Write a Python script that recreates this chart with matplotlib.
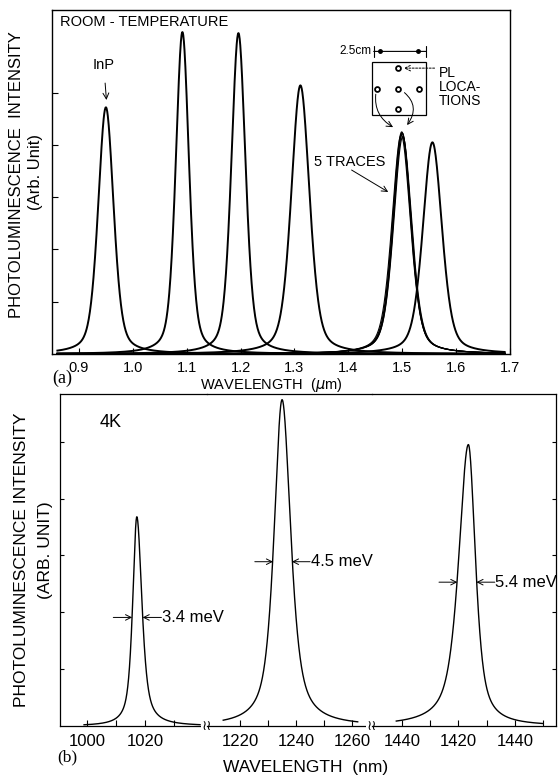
import numpy as np
import matplotlib.pyplot as plt

plt.rcParams['font.family'] = ['Liberation Sans', 'DejaVu Sans']

# (a) room temperature PL, wavelength in um
rt_centres = [0.950, 1.092, 1.196, 1.311, 1.556]
rt_heights = [4.72, 6.16, 6.14, 5.14, 4.05]
rt_fwhm = [0.034, 0.029, 0.031, 0.040, 0.042]
# the 5 traces taken at the 5 PL locations (1.5 um wafer)
trace_centres = [1.499, 1.500, 1.498, 1.501, 1.500]
trace_heights = [4.25, 4.22, 4.19, 4.16, 4.23]
trace_fwhm = [0.040, 0.040, 0.041, 0.040, 0.039]
rt_xticks = [0.9, 1.0, 1.1, 1.2, 1.3, 1.4, 1.5, 1.6, 1.7]

# (b) 4K PL, wavelength in nm (broken axis, 3 segments)
lt_centres = [1017.2, 1235.0, 1423.5]
lt_heights = [3.68, 5.74, 4.95]
lt_hw_left = [1.7, 3.4, 4.1]
lt_hw_right = [2.1, 3.7, 3.0]
lt_labels = ['3.4 meV', '4.5 meV', '5.4 meV']
lt_span = [(999, 1039), (1214, 1262), (1398, 1450)]
seg_lims = [(990.7, 1041.4), (1208.2, 1267.1), (1389.4, 1454.5)]
seg_ticks = [[1000, 1010, 1020, 1030, 1040],
             [1220, 1230, 1240, 1250, 1260],
             [1400, 1410, 1420, 1430, 1440, 1450]]
seg_ticklabels = [['1000', '', '1020', '', ''],
                  ['1220', '', '1240', '', '1260'],
                  ['1440', '', '1420', '', '1440', '']]


def line_shape(x, c, h, hw_l, hw_r, eta=0.4):
    hw = np.where(x < c, hw_l, hw_r)
    u = (x - c) / hw
    return h * (eta / (1 + u**2) + (1 - eta) * np.exp(-np.log(2) * u**2))


fig = plt.figure(figsize=(5.58, 7.78), dpi=100)

# ---------------- (a) ----------------
ax = fig.add_axes([0.0932, 0.545, 0.8208, 0.442])
xa = np.linspace(0.86, 1.69, 1500)
for c, h, w in zip(rt_centres, rt_heights, rt_fwhm):
    ax.plot(xa, line_shape(xa, c, h, w / 2, w / 2), color='black', lw=1.4)
for c, h, w in zip(trace_centres, trace_heights, trace_fwhm):
    ax.plot(xa, line_shape(xa, c, h, w / 2, w / 2), color='black', lw=0.8)

ax.set_xlim(0.85, 1.70)
ax.set_ylim(0, 6.58)
ax.set_xticks(rt_xticks)
ax.set_xticklabels([f'{t:.1f}' for t in rt_xticks])
ax.set_yticks([1, 2, 3, 4, 5])
ax.set_yticklabels([])
ax.tick_params(direction='in', length=4, labelsize=10.5, pad=5)
for s in ax.spines.values():
    s.set_linewidth(1.0)

ax.text(0.017, 0.965, 'ROOM - TEMPERATURE', transform=ax.transAxes,
        fontsize=10.5, va='center', ha='left')
ax.annotate('InP', xy=(0.951, 4.86), xytext=(0.946, 5.53), fontsize=10.5,
            ha='center', va='center',
            arrowprops=dict(arrowstyle='->', color='black', lw=0.7,
                            shrinkA=6, shrinkB=0))

# inset: wafer with PL locations
ax.add_patch(plt.Rectangle((1.443, 4.57), 0.101, 1.01, fill=False,
                           lw=0.9, color='black'))
dot_x = [1.493, 1.454, 1.493, 1.531, 1.493]
dot_y = [5.47, 5.07, 5.07, 5.07, 4.68]
ax.plot(dot_x, dot_y, 'o', color='black', ms=3.5, mfc='white', mew=1.3)
ax.annotate('', xy=(1.447, 5.79), xytext=(1.544, 5.79),
            arrowprops=dict(arrowstyle='|-|', color='black', lw=0.8,
                            mutation_scale=4, shrinkA=0, shrinkB=0))
ax.plot([1.458, 1.529], [5.79, 5.79], 'o', color='black', ms=2.5)
ax.text(1.443, 5.79, '2.5cm', fontsize=8.5, ha='right', va='center')
ax.annotate('', xy=(1.503, 5.47), xytext=(1.560, 5.47),
            arrowprops=dict(arrowstyle='->', color='black', lw=0.7,
                            linestyle=(0, (2, 1.5)), shrinkA=0, shrinkB=0))
ax.text(1.568, 5.52, 'PL\nLOCA-\nTIONS', fontsize=10, ha='left', va='top',
        linespacing=1.0)
ax.annotate('', xy=(1.483, 4.34), xytext=(1.452, 5.05),
            arrowprops=dict(arrowstyle='->', color='black', lw=0.7,
                            connectionstyle='arc3,rad=0.35',
                            shrinkA=3, shrinkB=0))
ax.annotate('', xy=(1.509, 4.38), xytext=(1.498, 5.05),
            arrowprops=dict(arrowstyle='->', color='black', lw=0.7,
                            connectionstyle='arc3,rad=-0.5',
                            shrinkA=3, shrinkB=0))
ax.text(1.403, 3.67, '5 TRACES', fontsize=10.5, ha='center', va='center')
ax.annotate('', xy=(1.474, 3.10), xytext=(1.406, 3.52),
            arrowprops=dict(arrowstyle='->', color='black', lw=0.7,
                            shrinkA=0, shrinkB=0))

fig.text(0.030, 0.775, 'PHOTOLUMINESCENCE  INTENSITY', rotation=90,
         fontsize=12, ha='center', va='center')
fig.text(0.063, 0.779, '(Arb. Unit)', rotation=90, fontsize=12,
         ha='center', va='center')
fig.text(0.487, 0.5055, r'WAVELENGTH  ($\mu$m)', fontsize=10.5,
         ha='center', va='center')
fig.text(0.093, 0.514, '(a)', fontsize=13, family='Liberation Serif',
         ha='left', va='center')

# ---------------- (b) ----------------
left, bottom, height = 0.1075, 0.0668, 0.4268
seg_px = [147, 165, 184]
total_w = 0.8889
axes_b = []
x0 = left
for i, (lim, ticks, labels) in enumerate(zip(seg_lims, seg_ticks, seg_ticklabels)):
    w = total_w * seg_px[i] / sum(seg_px)
    a = fig.add_axes([x0, bottom, w, height])
    a.patch.set_visible(False)
    x0 += w
    a.set_xlim(*lim)
    a.set_ylim(0, 5.84)
    a.set_xticks(ticks)
    a.set_xticklabels(labels)
    a.set_yticks([1, 2, 3, 4, 5])
    a.set_yticklabels([])
    a.tick_params(direction='in', length=4, labelsize=12, pad=6)
    a.tick_params(axis='y', length=3)
    if i > 0:
        a.spines['left'].set_visible(False)
        a.tick_params(axis='y', left=False)
    if i < 2:
        a.spines['right'].set_visible(False)
    else:
        a.tick_params(axis='y', right=True)
    for s in a.spines.values():
        s.set_linewidth(0.9)
    axes_b.append(a)

for a, c, h, hl, hr, span in zip(axes_b, lt_centres, lt_heights,
                                 lt_hw_left, lt_hw_right, lt_span):
    x = np.linspace(span[0], span[1], 800)
    a.plot(x, line_shape(x, c, h, hl, hr, eta=0.7), color='black', lw=1.0)

# FWHM markers
fwhm_y = [1.91, 2.89, 2.53]
for a, c, h, hl, hr, lab, yy in zip(axes_b, lt_centres, lt_heights,
                                     lt_hw_left, lt_hw_right, lt_labels, fwhm_y):
    xl, xr = c - hl * 0.95, c + hr * 0.95
    a.annotate('', xy=(xl, yy), xytext=(xl - 6.5, yy),
               arrowprops=dict(arrowstyle='->', color='black', lw=0.7,
                               shrinkA=0, shrinkB=0))
    a.annotate('', xy=(xr, yy), xytext=(xr + 6.5, yy),
               arrowprops=dict(arrowstyle='->', color='black', lw=0.7,
                               shrinkA=0, shrinkB=0))
    a.text(xr + 6.7, yy, lab, fontsize=12, ha='left', va='center',
           clip_on=False)

axes_b[0].text(1004.5, 5.33, '4K', fontsize=13, ha='left', va='center')

# axis break marks
for a in axes_b[:2]:
    a.text(1.0, 0.0, '\u2240\u2240', transform=a.transAxes, fontsize=10,
           family='DejaVu Sans', ha='center', va='center', zorder=5,
           bbox=dict(boxstyle='square,pad=0.05', fc='white', ec='none'))

fig.text(0.039, 0.280, 'PHOTOLUMINESCENCE INTENSITY', rotation=90,
         fontsize=12.5, ha='center', va='center')
fig.text(0.081, 0.293, '(ARB. UNIT)', rotation=90, fontsize=12.5,
         ha='center', va='center')
fig.text(0.547, 0.013, 'WAVELENGTH  (nm)', fontsize=12.5,
         ha='center', va='center')
fig.text(0.102, 0.027, '(b)', fontsize=12.5, family='Liberation Serif',
         ha='left', va='center')

fig.savefig('out.png', dpi=100)
